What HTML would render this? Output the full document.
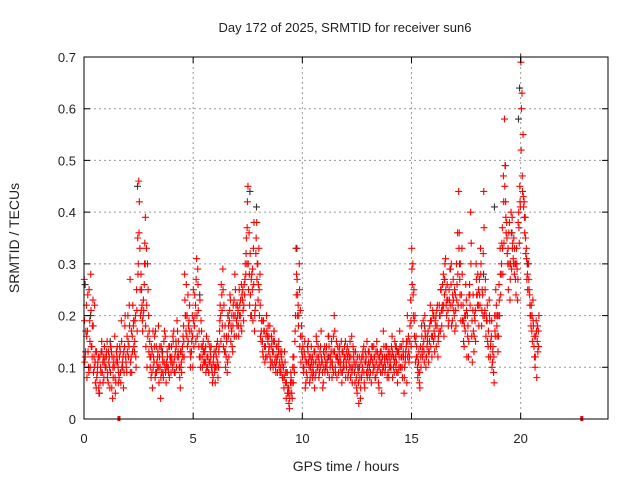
<!DOCTYPE html>
<html><head><meta charset="utf-8"><style>
html,body{margin:0;padding:0;background:#fff}
svg{display:block;font-family:"Liberation Sans",sans-serif}
</style></head><body>
<svg id="chart" width="640" height="480" viewBox="0 0 640 480">
<rect width="640" height="480" fill="#fff"/>
<text x="345" y="32" font-size="13" text-anchor="middle" fill="#222">Day 172 of 2025, SRMTID for receiver sun6</text>
<text x="346" y="471" font-size="14" text-anchor="middle" fill="#222">GPS time / hours</text>
<text transform="translate(19,238) rotate(-90)" font-size="14" text-anchor="middle" fill="#222">SRMTID / TECUs</text>
<g id="grid"></g>
<g id="marks"></g>
<rect x="84" y="57" width="524" height="362" fill="none" stroke="#000" stroke-width="1"/>
<g id="ticks"></g>
</svg>
<script>
const xTicks=[0,5,10,15,20];
const yTicks=[0,0.1,0.2,0.3,0.4,0.5,0.6,0.7];
const yTickLabels=["0","0.1","0.2","0.3","0.4","0.5","0.6","0.7"];
const sampleHours=0.05;
const srmtidA=[
.27,.12,.22,.17,.1,.19,.28,.14,.23,.12,.11,.06,.09,.12,.05,.1,.15,.11,.08,.12,
.1,.15,.07,.12,.09,.13,.04,.11,.16,.07,.12,.1,.08,.13,.19,.11,.06,.14,.12,.09,
.2,.14,.27,.12,.16,.18,.13,.2,.25,.35,.46,.33,.28,.22,.2,.26,.39,.33,.3,.2,
.15,.12,.09,.17,.11,.08,.14,.1,.18,.12,.04,.09,.11,.15,.1,.07,.13,.1,.08,.12,
.14,.1,.17,.12,.15,.19,.13,.1,.06,.11,.14,.18,.28,.2,.16,.24,.19,.13,.17,.2,
.25,.18,.22,.31,.29,.14,.23,.19,.12,.15,.13,.11,.16,.1,.09,.14,.12,.1,.08,.13,
.07,.12,.15,.1,.17,.2,.24,.29,.22,.18,.12,.09,.16,.19,.23,.17,.13,.2,.28,.22,
.18,.21,.25,.2,.26,.23,.19,.24,.28,.3,.45,.36,.32,.27,.25,.33,.17,.22,.38,.3,
.33,.28,.15,.19,.12,.17,.14,.2,.16,.13,.18,.11,.15,.1,.17,.12,.14,.09,.13,.11,
.1,.13,.08,.06,.11,.04,.09,.05,.02,.07,.05,.1,.12,.15,.33,.27,.22,.3,.21,.18,
.12,.09,.15,.07,.11,.13,.1,.08,.14,.12,.09,.06,.11,.15,.1,.08,.13,.17,.11,.07,
.12,.1,.14,.09,.16,.12,.11,.08,.13,.2,.1,.15,.12,.09,.14,.11,.07,.13,.1,.12,
.11,.14,.09,.12,.08,.16,.1,.13,.07,.11,.05,.09,.12,.04,.08,.1,.14,.06,.11,.15,
.09,.13,.11,.07,.14,.1,.12,.08,.15,.1,.06,.11,.13,.09,.17,.12,.1,.14,.11,.08,
.13,.1,.16,.12,.09,.14,.11,.07,.13,.17,.1,.12,.15,.05,.11,.14,.2,.16,.12,.23,
.33,.3,.25,.2,.16,.12,.09,.07,.14,.18,.12,.15,.2,.1,.14,.17,.13,.22,.19,.16,
.15,.13,.18,.21,.12,.17,.2,.25,.22,.28,.24,.31,.2,.23,.19,.29,.26,.22,.27,.2,
.24,.3,.36,.44,.27,.19,.33,.22,.14,.17,.23,.2,.12,.26,.4,.16,.21,.13,.19,.3,
.24,.22,.27,.33,.18,.24,.44,.21,.16,.19,.14,.23,.12,.16,.11,.09,.2,.25,.18,.13,
.26,.33,.28,.37,.47,.58,.42,.38,.3,.36,.23,.4,.39,.31,.28,.27,.33,.23,.4,.45,
.69,.63,.55,.42,.39,.33,.28,.3,.24,.2,.17,.23,.14,.1,.19,.15,.17];
const srmtidB=[
.11,.17,.08,.13,.25,.1,.14,.18,.09,.22,.13,.08,.11,.05,.07,.13,.09,.12,.14,.1,
.13,.09,.11,.06,.14,.12,.08,.1,.05,.13,.11,.09,.14,.07,.1,.12,.09,.2,.1,.13,
.12,.18,.11,.09,.22,.14,.19,.1,.17,.3,.42,.2,.25,.17,.21,.34,.14,.1,.25,.17,
.1,.14,.06,.12,.16,.09,.11,.13,.07,.1,.14,.12,.08,.17,.09,.11,.1,.14,.12,.09,
.11,.15,.09,.13,.1,.17,.12,.08,.1,.13,.16,.12,.2,.26,.14,.18,.22,.12,.15,.1,
.14,.2,.27,.16,.21,.12,.1,.17,.14,.11,.13,.09,.12,.15,.11,.13,.1,.07,.12,.09,
.13,.1,.08,.14,.22,.26,.18,.14,.13,.1,.15,.2,.12,.24,.18,.14,.22,.16,.25,.19,
.2,.16,.22,.18,.24,.21,.26,.3,.35,.42,.25,.22,.2,.28,.19,.38,.21,.35,.3,.26,
.2,.16,.19,.13,.17,.11,.16,.12,.18,.14,.1,.16,.13,.15,.11,.09,.12,.14,.1,.13,
.12,.08,.1,.13,.07,.09,.06,.03,.05,.08,.04,.07,.09,.2,.28,.24,.2,.14,.11,.16,
.1,.13,.06,.09,.14,.11,.07,.12,.09,.1,.13,.08,.16,.1,.12,.09,.14,.11,.06,.1,
.09,.13,.11,.16,.08,.12,.15,.1,.09,.17,.12,.08,.11,.13,.1,.15,.09,.11,.14,.08,
.13,.08,.11,.15,.1,.07,.12,.09,.13,.06,.1,.03,.08,.11,.09,.12,.07,.13,.09,.1,
.11,.08,.12,.14,.09,.12,.08,.11,.13,.07,.12,.09,.05,.1,.14,.09,.12,.08,.13,.1,
.1,.14,.08,.12,.15,.1,.13,.09,.12,.1,.14,.08,.12,.1,.13,.07,.15,.11,.18,.14,
.26,.2,.16,.11,.14,.08,.13,.06,.1,.13,.19,.11,.16,.12,.15,.11,.18,.14,.12,.2,
.17,.19,.14,.22,.16,.2,.25,.18,.21,.16,.3,.22,.26,.18,.23,.29,.18,.24,.21,.17,
.18,.26,.22,.36,.3,.24,.19,.15,.2,.26,.12,.18,.24,.22,.34,.11,.17,.2,.15,.24,
.28,.18,.22,.3,.25,.32,.2,.27,.19,.15,.12,.19,.15,.1,.14,.07,.16,.22,.2,.16,
.2,.24,.34,.28,.34,.49,.36,.32,.25,.38,.3,.29,.34,.35,.3,.24,.29,.38,.34,.41,
.6,.44,.41,.36,.32,.27,.3,.25,.2,.22,.15,.18,.12,.16,.08,.13,.2];
const srmtidC=[
.19,.13,.16,.24,.09,.15,.21,.12,.18,.1,.07,.13,.1,.06,.12,.09,.13,.07,.11,.1,
.12,.08,.13,.1,.14,.06,.1,.12,.08,.11,.14,.07,.12,.09,.15,.1,.13,.18,.11,.16,
.15,.22,.09,.17,.13,.19,.15,.12,.21,.28,.36,.25,.21,.19,.23,.3,.18,.22,.16,.13,
.12,.08,.13,.1,.14,.17,.09,.12,.1,.14,.08,.13,.09,.11,.16,.1,.12,.09,.14,.11,
.12,.16,.11,.09,.14,.12,.15,.1,.13,.09,.12,.15,.23,.17,.2,.15,.17,.1,.13,.16,
.19,.24,.15,.2,.26,.17,.12,.14,.1,.13,.11,.14,.1,.12,.09,.11,.14,.09,.11,.1,
.1,.14,.11,.13,.19,.15,.21,.25,.16,.13,.16,.11,.18,.21,.15,.2,.18,.23,.2,.16,
.22,.18,.2,.23,.17,.25,.22,.27,.32,.37,.3,.28,.24,.2,.29,.26,.2,.32,.27,.23,
.25,.22,.17,.15,.19,.14,.12,.17,.15,.16,.12,.14,.11,.13,.15,.1,.11,.12,.15,.09,
.09,.11,.1,.08,.09,.07,.05,.06,.04,.09,.07,.12,.1,.17,.24,.2,.18,.25,.16,.13,
.14,.1,.12,.11,.08,.15,.12,.1,.11,.08,.11,.13,.09,.12,.14,.11,.1,.12,.09,.13,
.14,.11,.1,.12,.14,.1,.13,.11,.16,.13,.09,.12,.14,.11,.12,.09,.13,.1,.12,.15,
.1,.12,.13,.1,.12,.09,.14,.11,.1,.08,.12,.07,.1,.06,.12,.13,.09,.11,.12,.08,
.13,.1,.09,.12,.11,.14,.1,.13,.09,.12,.1,.13,.11,.12,.1,.11,.14,.12,.09,.12,
.11,.12,.13,.1,.11,.12,.09,.13,.1,.14,.12,.1,.13,.08,.12,.15,.12,.13,.15,.19,
.29,.24,.19,.15,.12,.1,.11,.09,.12,.16,.14,.13,.17,.12,.16,.13,.15,.19,.16,.21,
.2,.16,.2,.18,.15,.22,.17,.21,.26,.22,.27,.25,.23,.21,.25,.22,.3,.19,.23,.25,
.21,.23,.28,.33,.24,.22,.28,.19,.18,.2,.21,.16,.15,.24,.3,.19,.24,.16,.21,.27,
.22,.25,.24,.28,.21,.2,.37,.25,.2,.22,.17,.2,.14,.19,.13,.12,.17,.2,.16,.2,
.23,.28,.3,.33,.42,.45,.39,.35,.33,.3,.27,.36,.33,.3,.33,.3,.3,.27,.37,.42,
.52,.47,.43,.39,.35,.31,.25,.27,.22,.18,.2,.19,.16,.12,.17,.18,.14];
const blackHours=[0.05,0.3,1.2,2.45,2.8,3.6,5.3,6.6,7.6,7.9,8.7,9.75,11.2,12.6,14.3,15.6,16.5,17.2,18.3,18.8,19.3,19.6,19.9,19.95,20.0,20.3];
const blackValues=[0.26,0.2,0.15,0.45,0.3,0.13,0.24,0.2,0.44,0.41,0.17,0.33,0.12,0.1,0.14,0.18,0.27,0.3,0.28,0.41,0.49,0.36,0.58,0.64,0.7,0.3];
const zeroHours=[1.6,22.8];

const NS="http://www.w3.org/2000/svg";
const X0=84,X1=608,Y0=419,Y1=57,XMAX=24,YMAX=0.7;
function xs(h){return X0+(X1-X0)*h/XMAX;}
function ys(v){return Y0-(Y0-Y1)*v/YMAX;}
const grid=document.getElementById('grid'),ticks=document.getElementById('ticks'),marks=document.getElementById('marks');
function mk(tag,attrs,parent){const e=document.createElementNS(NS,tag);for(const k in attrs)e.setAttribute(k,attrs[k]);parent.appendChild(e);return e;}
xTicks.forEach((t,i)=>{
  const x=xs(t);
  if(t>0){const g=mk('line',{x1:x,x2:x,y1:Y1,y2:Y0,stroke:'#999','stroke-dasharray':'2,3','stroke-width':1},grid);
    
    }
  const tk=mk('path',{d:`M${x},${Y0}v-6M${x},${Y1}v6`,stroke:'#000'},ticks);
  
  
  const l=mk('text',{x:x,y:443,'font-size':13,'text-anchor':'middle',fill:'#222'},ticks);
  l.textContent=String(t);
  
  
});
yTicks.forEach((t,i)=>{
  const y=ys(t);
  if(t>0&&t<YMAX){const g=mk('line',{x1:X0,x2:X1,y1:y,y2:y,stroke:'#999','stroke-dasharray':'2,3','stroke-width':1},grid);
    
    }
  const tk=mk('path',{d:`M${X0},${y}h6M${X1},${y}h-6`,stroke:'#000'},ticks);
  
  
  const l=mk('text',{x:X0-8,y:y+5,'font-size':13,'text-anchor':'end',fill:'#222'},ticks);
  l.textContent=yTickLabels[i];
  
  
});
function plus(h,v,color){
  const x=xs(h),y=ys(v);
  const p=mk('path',{d:`M${x-3.5},${y}h7M${x},${y-3.5}v7`,stroke:color,'stroke-width':1.1,fill:'none'},marks);
  
  
}
blackHours.forEach((h,i)=>plus(h,blackValues[i],'#333'));
srmtidA.forEach((v,i)=>plus(i*sampleHours+0.01,v,'#f00'));
srmtidB.forEach((v,i)=>plus(i*sampleHours+0.035,v,'#f00'));
srmtidC.forEach((v,i)=>plus(i*sampleHours+0.022,v,'#f00'));
zeroHours.forEach(h=>{
  const r=mk('rect',{x:xs(h)-1.5,y:Y0-3,width:3,height:5,fill:'#f00'},marks);
  
  
});
</script>
</body></html>
